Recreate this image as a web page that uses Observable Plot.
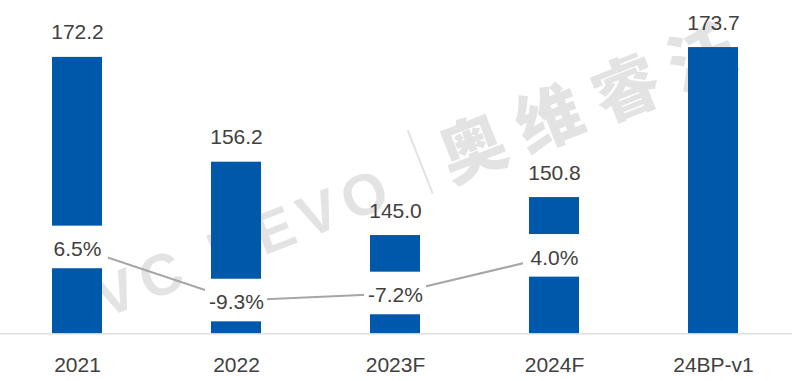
<!DOCTYPE html>
<html><head><meta charset="utf-8">
<script src="https://cdn.jsdelivr.net/npm/d3@7"></script>
<script src="https://cdn.jsdelivr.net/npm/@observablehq/plot@0.6"></script>
<style>
body{margin:0;background:#fff;}
#wrap{position:relative;width:800px;height:381px;overflow:hidden;}
.wm{position:absolute;transform:translate(-50%,-50%) rotate(-21.5deg);color:#e3e3e3;white-space:nowrap;line-height:1;font-weight:bold;}
#wm1{left:224px;top:250px;font-family:"Liberation Sans",Arial,sans-serif;font-size:58px;letter-spacing:8px;}
#wm2{left:593px;top:96px;font-family:"Noto Sans CJK SC",sans-serif;font-size:66px;letter-spacing:16px;font-weight:900;}
#wm3{left:420px;top:162px;width:1.5px;height:68px;background:#e3e3e3;}
#chart{position:absolute;left:0;top:0;}
</style></head>
<body><div id="wrap">
<div class="wm" id="wm1">AVC REVO</div>
<div class="wm" id="wm3"></div>
<div class="wm" id="wm2">奥维睿沃</div>
<div id="chart"></div></div>
<script>
const categories = ["2021", "2022", "2023F", "2024F", "24BP-v1"];
const shipments = [172.2, 156.2, 145.0, 150.8, 173.7];
const growth = [6.5, -9.3, -7.2, 4.0];

const data = categories.map((c, i) => ({cat: c, value: shipments[i]}));
const gdata = growth.map((g, i) => ({cat: categories[i], g}));

// secondary axis mapping (growth %) into the primary value domain
const g2y = d3.scaleLinear().domain([0, 1]).range([139.85, 139.85 + 0.513]);
const boxHalf = 3.25;

const font = "'Liberation Sans', Arial, sans-serif";
const textColor = "#404040";

const chart = Plot.plot({
  width: 800,
  height: 381,
  marginLeft: 0,
  marginRight: 8,
  marginTop: 0,
  marginBottom: 48,
  style: {fontFamily: font, background: "transparent"},
  x: {domain: categories, range: [-2, 793], paddingInner: 0.685, paddingOuter: 0.3425, align: 0.5},
  y: {domain: [130, 180], range: [333.3, 5.8], axis: null},
  marks: [
    Plot.barY(data, {x: "cat", y1: 130, y2: "value", fill: "#0058AA"}),
    Plot.ruleY([130], {stroke: "#d9d9d9", strokeWidth: 1.3}),
    Plot.line(gdata, {x: "cat", y: d => g2y(d.g), stroke: "#a6a6a6", strokeWidth: 2}),
    Plot.barY(gdata, {x: "cat", y1: d => g2y(d.g) - boxHalf, y2: d => g2y(d.g) + boxHalf, fill: "white", insetLeft: -6, insetRight: -6}),
    Plot.text(gdata, {x: "cat", y: d => g2y(d.g), text: d => d.g.toFixed(1) + "%", fontSize: 21, fill: textColor, lineAnchor: "middle", dy: 2}),
    Plot.text(data, {x: "cat", y: "value", text: d => d.value.toFixed(1), fontSize: 21, fill: textColor, lineAnchor: "bottom", dy: -18}),
    Plot.axisX({tickSize: 0, tickPadding: 23.5, fontSize: 21, color: textColor, label: null, fill: textColor})
  ]
});
document.getElementById("chart").appendChild(chart);
</script>
</body></html>
